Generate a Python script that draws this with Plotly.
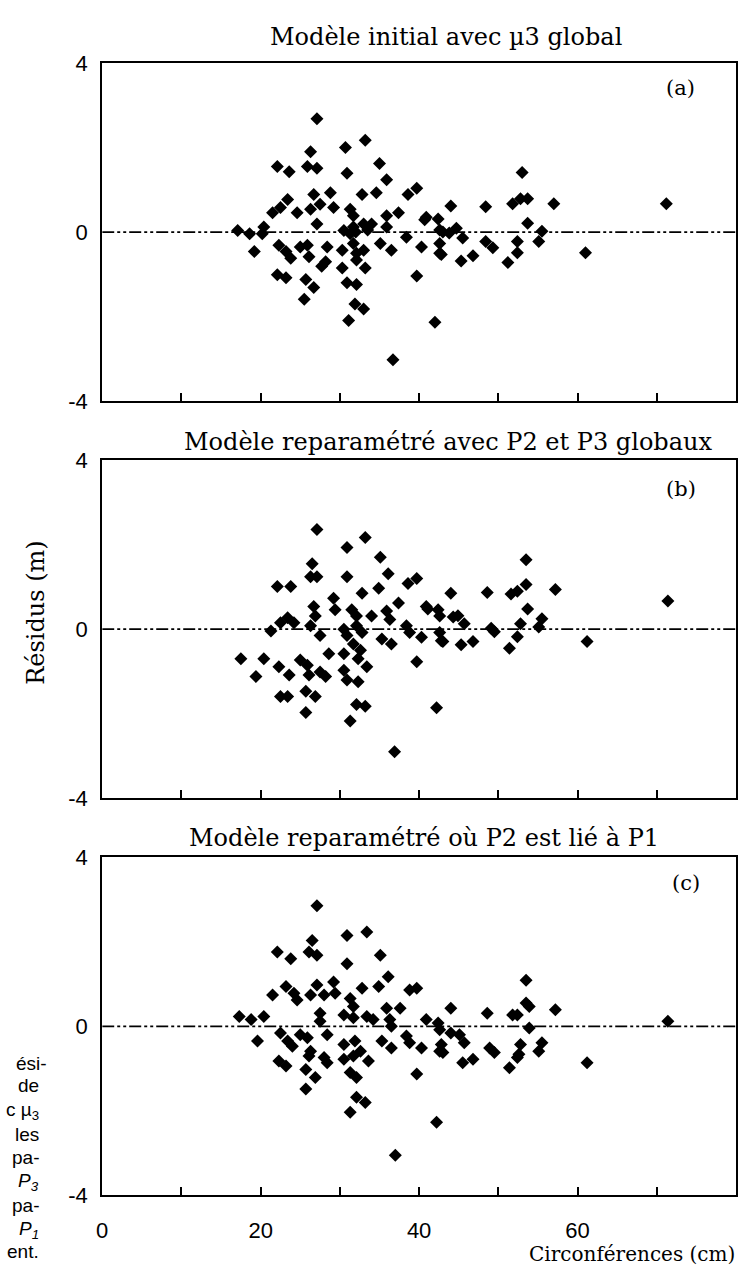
import plotly.graph_objects as go

# ---------------- data ----------------
circ_a = [27.1, 33.2, 30.7, 26.3, 25.9, 22.1, 23.6, 27.1, 30.9, 35.0, 35.9, 34.6, 32.8, 28.8,
          26.7, 23.4, 22.5, 21.5, 24.6, 26.3, 27.5, 29.2, 31.3, 31.7, 37.4, 38.6, 39.7, 44.0,
          35.9, 40.9, 42.4, 27.1, 17.1, 18.6, 20.2, 20.4, 30.5, 31.7, 33.0, 34.0, 31.3, 35.9,
          38.4, 43.0, 19.2, 22.3, 23.2, 23.8, 25.0, 25.9, 26.1, 27.7, 28.2, 28.4, 30.3, 30.3,
          31.7, 32.1, 33.0, 32.1, 33.2, 35.1, 36.5, 40.3, 42.6, 42.6, 39.7, 22.1, 23.2, 25.7,
          26.7, 25.5, 30.9, 32.1, 31.9, 33.0, 31.1, 42.0, 36.7,
          48.4, 53.0, 51.8, 52.8, 53.7, 57.0, 71.2, 40.7, 42.6, 43.8, 44.7, 45.5, 53.7, 55.5,
          55.1, 42.8, 45.3, 46.8, 48.4, 49.3, 51.2, 52.4, 52.4, 61.0, 32.0, 33.5]
resid_a = [2.68, 2.17, 2.00, 1.90, 1.55, 1.55, 1.43, 1.51, 1.39, 1.62, 1.24, 0.93, 0.89, 0.93,
           0.89, 0.77, 0.58, 0.46, 0.46, 0.54, 0.66, 0.58, 0.54, 0.39, 0.46, 0.89, 1.04, 0.62,
           0.39, 0.35, 0.31, 0.19, 0.04, -0.04, -0.04, 0.12, 0.04, 0.12, 0.19, 0.19, -0.04, 0.12,
           -0.12, 0.00, -0.46, -0.31, -0.46, -0.62, -0.35, -0.31, -0.58, -0.81, -0.70, -0.35, -0.43, -0.85,
           -0.27, -0.50, -0.43, -0.66, -0.85, -0.27, -0.43, -0.35, -0.27, -0.50, -1.04, -1.01, -1.08, -1.12,
           -1.31, -1.59, -1.20, -1.24, -1.70, -1.82, -2.09, -2.13, -3.02,
           0.60, 1.41, 0.67, 0.79, 0.79, 0.67, 0.67, 0.29, 0.05, -0.02, 0.09, -0.14, 0.21, 0.02,
           -0.22, -0.53, -0.68, -0.56, -0.22, -0.37, -0.72, -0.22, -0.49, -0.49, 0.00, 0.05]

circ_b = [27.1, 33.2, 30.9, 35.1, 26.5, 26.3, 27.1, 30.9, 36.1, 22.1, 23.8, 38.6, 39.7, 32.8,
          34.9, 44.0, 37.4, 40.9, 42.4, 42.6, 26.7, 26.9, 29.2, 29.4, 31.5, 32.1, 34.0, 35.9,
          36.3, 23.4, 24.2, 22.5, 21.3, 26.3, 27.5, 30.5, 30.9, 32.1, 32.8, 38.4, 38.8, 40.3,
          42.6, 42.8, 35.3, 36.5, 31.7, 32.6, 28.6, 30.5, 17.5, 20.4, 19.4, 22.3, 23.6, 25.0,
          25.9, 27.5, 28.2, 26.1, 30.5, 30.9, 32.3, 33.4, 32.3, 39.7, 22.5, 23.4, 25.7, 26.9,
          25.7, 32.1, 33.2, 31.3, 42.2, 36.9,
          53.5, 48.6, 51.6, 52.4, 53.5, 57.2, 71.4, 41.1, 44.3, 44.9, 45.7, 53.7, 52.8, 55.5,
          55.1, 43.0, 45.3, 46.8, 49.1, 49.5, 52.4, 51.4, 61.2]
resid_b = [2.36, 2.17, 1.93, 1.70, 1.55, 1.24, 1.24, 1.24, 1.31, 1.01, 1.01, 1.08, 1.20, 0.85,
           0.97, 0.85, 0.62, 0.54, 0.46, 0.31, 0.54, 0.31, 0.73, 0.46, 0.46, 0.31, 0.31, 0.43,
           0.23, 0.27, 0.15, 0.15, -0.04, 0.08, -0.15, 0.00, -0.15, 0.08, -0.08, 0.08, -0.08, -0.19,
           -0.08, -0.27, -0.23, -0.35, -0.35, -0.50, -0.58, -0.58, -0.70, -0.70, -1.12, -0.89, -1.08, -0.73,
           -0.85, -1.01, -1.12, -1.08, -0.97, -1.20, -1.24, -0.89, -0.70, -0.77, -1.59, -1.59, -1.47, -1.59,
           -1.97, -1.78, -1.82, -2.17, -1.86, -2.90,
           1.64, 0.87, 0.83, 0.90, 1.06, 0.94, 0.67, 0.48, 0.29, 0.32, 0.13, 0.48, 0.13, 0.25,
           0.05, -0.29, -0.37, -0.29, 0.02, -0.06, -0.18, -0.45, -0.29]

circ_c = [27.1, 30.9, 33.4, 26.5, 22.1, 23.8, 26.1, 27.1, 35.1, 30.9, 36.1, 38.8, 39.7, 32.8,
          34.9, 21.5, 23.2, 24.2, 24.6, 26.3, 27.1, 28.0, 29.2, 29.4, 31.3, 31.7, 35.9, 37.6,
          44.0, 17.3, 18.8, 20.4, 27.5, 27.5, 30.5, 31.7, 33.4, 34.2, 36.3, 36.5, 40.9, 42.4,
          42.6, 44.0, 19.6, 22.5, 23.4, 24.0, 25.0, 25.9, 26.3, 28.4, 30.5, 31.9, 32.6, 35.3,
          36.5, 38.4, 38.8, 40.3, 42.6, 28.0, 28.4, 26.1, 30.5, 31.7, 33.6, 22.3, 23.2, 25.7,
          26.9, 31.3, 32.1, 39.7, 25.7, 32.1, 33.2, 31.3, 42.2, 37.0,
          53.5, 48.6, 51.8, 52.4, 53.5, 53.9, 57.2, 71.4, 42.8, 43.0, 45.1, 45.7, 45.5, 46.8,
          48.9, 49.5, 51.4, 52.6, 52.8, 52.4, 53.9, 55.5, 55.1, 61.2]
resid_c = [2.85, 2.15, 2.23, 2.03, 1.76, 1.60, 1.76, 1.68, 1.68, 1.48, 1.17, 0.86, 0.90, 0.90,
           0.94, 0.74, 0.94, 0.78, 0.62, 0.74, 0.98, 0.74, 1.05, 0.78, 0.66, 0.47, 0.43, 0.43,
           0.43, 0.23, 0.16, 0.23, 0.31, 0.12, 0.27, 0.20, 0.23, 0.16, 0.16, 0.00, 0.16, 0.08,
           -0.08, -0.16, -0.35, -0.16, -0.35, -0.47, -0.20, -0.27, -0.59, -0.20, -0.43, -0.35, -0.59, -0.35,
           -0.51, -0.23, -0.39, -0.51, -0.59, -0.74, -0.86, -0.70, -0.78, -0.70, -0.82, -0.82, -0.94, -1.02,
           -1.21, -1.09, -1.21, -1.13, -1.48, -1.68, -1.80, -2.03, -2.27, -3.05,
           1.09, 0.31, 0.27, 0.27, 0.55, 0.47, 0.39, 0.12, -0.43, -0.62, -0.20, -0.39, -0.86, -0.78,
           -0.51, -0.62, -0.98, -0.66, -0.43, -0.74, -0.04, -0.39, -0.59, -0.86]

panel_titles = ["Modèle initial avec µ3 global",
                "Modèle reparamétré avec P2 et P3 globaux",
                "Modèle reparamétré où P2 est lié à P1"]
panel_tags = ["(a)", "(b)", "(c)"]
x_label_vals = [0, 20, 40, 60]
x_label_text = ["0", "20", "40", "60"]
y_ticks = [-4, 0, 4]
y_ticktext = ["-4", "0", "4"]
zero_x = [0, 80]
zero_y = [0, 0]
caption_lines = ["ési-", "de", "c µ<sub>3</sub>", "les", "pa-", "<i>P<sub>3</sub></i>",
                 "pa-", "<i>P<sub>1</sub></i>", "ent."]

# ---------------- layout geometry ----------------
W, H = 738, 1281
def fx(p):
    return p / W
def fy(p):
    return 1 - p / H

x_dom = [fx(97), fx(736)]
panel_px = [(52, 397), (457, 802), (862, 1207)]
title_px = [(444, 26), (446, 439), (421, 842)]
tag_px = [(680, 78), (681, 487), (686, 888)]

SERIF = "DejaVu Serif"
SANS = "Liberation Sans"

fig = go.Figure()
datasets = [(circ_a, resid_a), (circ_b, resid_b), (circ_c, resid_c)]
layout_axes = {}
annotations = []
for i, (cx, ry) in enumerate(datasets):
    xa = "x" if i == 0 else f"x{i+1}"
    ya = "y" if i == 0 else f"y{i+1}"
    fig.add_trace(go.Scatter(x=zero_x, y=zero_y, mode="lines",
                             line=dict(color="black", width=1.8, dash="12px,3px,3px,3px,3px,3px"),
                             xaxis=xa, yaxis=ya, hoverinfo="skip", showlegend=False))
    fig.add_trace(go.Scatter(x=cx, y=ry, mode="markers",
                             marker=dict(symbol="diamond", size=10, color="black",
                                         line=dict(width=0)),
                             xaxis=xa, yaxis=ya, showlegend=False))
    top, bot = panel_px[i]
    xkey = "xaxis" if i == 0 else f"xaxis{i+1}"
    ykey = "yaxis" if i == 0 else f"yaxis{i+1}"
    layout_axes[xkey] = dict(domain=x_dom, range=[0, 80], anchor=ya,
                             showline=True, mirror=True, linecolor="black", linewidth=2,
                             ticks="inside", ticklen=8, tickwidth=1.5, tickcolor="black",
                             tickvals=x_label_vals, ticktext=x_label_text,
                             minor=dict(ticks="inside", ticklen=8, tickwidth=1.5, tickcolor="black",
                                        tick0=0, dtick=10, showgrid=False),
                             showticklabels=(i == 2), ticklabelstandoff=14,
                             tickfont=dict(family=SANS, size=22, color="black"),
                             showgrid=False, zeroline=False)
    layout_axes[ykey] = dict(domain=[fy(bot), fy(top)], range=[-4, 4], anchor=xa,
                             showline=True, mirror=True, linecolor="black", linewidth=2,
                             ticks="", tickvals=y_ticks, ticktext=y_ticktext,
                             ticklabelstandoff=8,
                             tickfont=dict(family=SANS, size=22, color="black"),
                             showgrid=False, zeroline=False)
    tx, ty = title_px[i]
    annotations.append(dict(text=panel_titles[i], x=fx(tx), y=fy(ty), xref="paper", yref="paper",
                            xanchor="center", yanchor="middle", showarrow=False,
                            font=dict(family=SERIF, size=24, color="black")))
    gx, gy = tag_px[i]
    annotations.append(dict(text=panel_tags[i], x=fx(gx), y=fy(gy), xref="paper", yref="paper",
                            xanchor="center", yanchor="middle", showarrow=False,
                            font=dict(family=SERIF, size=21, color="black")))

annotations.append(dict(text="Résidus (m)", x=fx(30), y=fy(612), xref="paper", yref="paper",
                        xanchor="center", yanchor="middle", textangle=-90, showarrow=False,
                        font=dict(family=SERIF, size=24, color="black")))
annotations.append(dict(text="Circonférences (cm)", x=fx(737), y=fy(1267), xref="paper", yref="paper",
                        xanchor="right", yanchor="middle", showarrow=False,
                        font=dict(family=SERIF, size=20, color="black")))
cap_y = [1072, 1095, 1121, 1145, 1168, 1193, 1217, 1242, 1264]
for j, line in enumerate(caption_lines):
    right = 43 if j == 0 else 35
    annotations.append(dict(text=line, x=fx(right), y=fy(cap_y[j]), xref="paper", yref="paper",
                            xanchor="right", yanchor="middle", showarrow=False,
                            font=dict(family=SANS, size=19, color="black")))

fig.update_layout(width=W, height=H, margin=dict(l=0, r=0, t=0, b=0),
                  paper_bgcolor="white", plot_bgcolor="white",
                  showlegend=False, annotations=annotations, **layout_axes)

fig.write_html("out.html")
